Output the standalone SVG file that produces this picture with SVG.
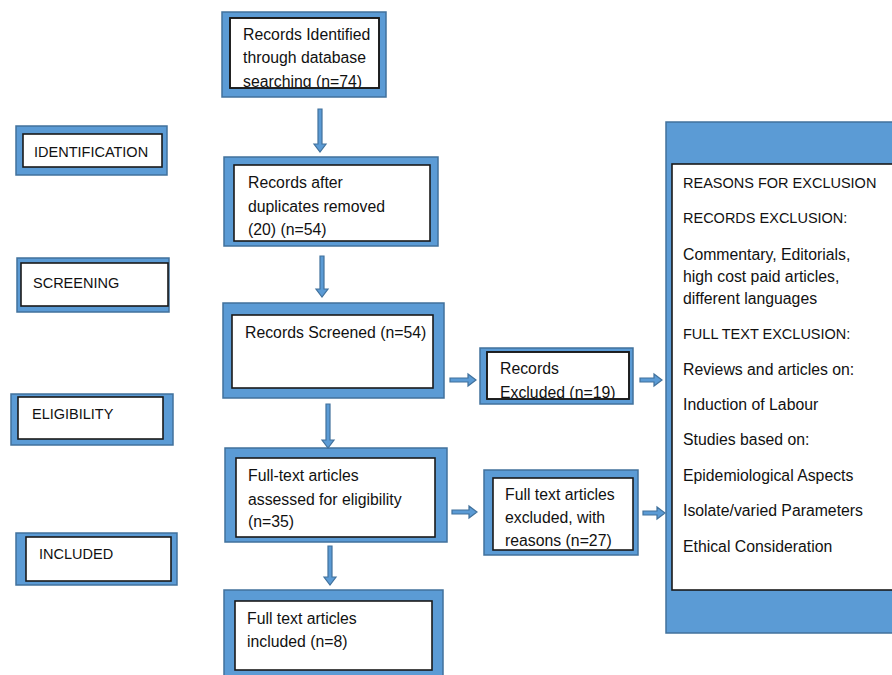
<svg xmlns="http://www.w3.org/2000/svg" width="892" height="675" viewBox="0 0 892 675">
<style>
.o{fill:#5b9bd5;stroke:#41719c;stroke-width:1.5}
.i{fill:#fff;stroke:#1a1a1a;stroke-width:1.6}
.e{fill:none;stroke:#1a1a1a;stroke-width:1.6}
.t{font-family:"Liberation Sans",Arial,sans-serif;font-size:15.8px;fill:#111}
.c{font-family:"Liberation Sans",Arial,sans-serif;font-size:14.5px;fill:#111}
.a{fill:#5b9bd5;stroke:#41719c;stroke-width:1.2}
</style>
<defs>
<clipPath id="cp1"><rect x="230" y="18" width="149" height="69"/></clipPath>
<clipPath id="cp4"><rect x="487" y="352" width="142" height="46"/></clipPath>
</defs>
<rect width="892" height="675" fill="#fff"/>

<g id="label-identification">
<rect class="o" x="16" y="126" width="151" height="49"/>
<rect class="i" x="23" y="134" width="139" height="33"/>
<text class="c" x="34" y="157">IDENTIFICATION</text>
</g>
<g id="label-screening">
<rect class="o" x="17" y="258" width="152" height="54"/>
<rect class="i" x="21" y="263" width="147" height="43"/>
<text class="c" x="33" y="288">SCREENING</text>
</g>
<g id="label-eligibility">
<rect class="o" x="11" y="394" width="162" height="51"/>
<rect class="i" x="18" y="397" width="145" height="42"/>
<text class="c" x="32" y="419">ELIGIBILITY</text>
</g>
<g id="label-included">
<rect class="o" x="16" y="533" width="161" height="52"/>
<rect class="i" x="26" y="537" width="145" height="44"/>
<text class="c" x="39" y="559">INCLUDED</text>
</g>

<g id="box-identified">
<rect class="o" x="222" y="12" width="164" height="85"/>
<rect class="i" x="230" y="18" width="149" height="70"/>
<g clip-path="url(#cp1)">
<text class="t" x="243" y="40">Records Identified</text>
<text class="t" x="243" y="63">through database</text>
<text class="t" x="243" y="87">searching (n=74)</text>
</g>
<rect class="e" x="230" y="18" width="149" height="70"/>
</g>

<g id="box-duplicates">
<rect class="o" x="224" y="157" width="214" height="89"/>
<rect class="i" x="234" y="165" width="196" height="76"/>
<text class="t" x="248" y="188">Records after</text>
<text class="t" x="248" y="212">duplicates removed</text>
<text class="t" x="248" y="235">(20) (n=54)</text>
</g>

<g id="box-screened">
<rect class="o" x="223" y="303" width="221" height="95"/>
<rect class="i" x="232" y="315" width="201" height="73"/>
<text class="t" x="245" y="338">Records Screened (n=54)</text>
</g>

<g id="box-excluded">
<rect class="o" x="480" y="348" width="153" height="56"/>
<rect class="i" x="487" y="352" width="142" height="47"/>
<g clip-path="url(#cp4)">
<text class="t" x="500" y="374">Records</text>
<text class="t" x="500" y="398">Excluded (n=19)</text>
</g>
<rect class="e" x="487" y="352" width="142" height="47"/>
</g>

<g id="box-assessed">
<rect class="o" x="225" y="448" width="222" height="94"/>
<rect class="i" x="236" y="458" width="199" height="79"/>
<text class="t" x="248" y="481">Full-text articles</text>
<text class="t" x="248" y="505">assessed for eligibility</text>
<text class="t" x="248" y="527">(n=35)</text>
</g>

<g id="box-fulltext-excluded">
<rect class="o" x="484" y="470" width="154" height="85"/>
<rect class="i" x="493" y="478" width="140" height="72"/>
<text class="t" x="505" y="500">Full text articles</text>
<text class="t" x="505" y="523">excluded, with</text>
<text class="t" x="505" y="546">reasons (n=27)</text>
</g>

<g id="box-included">
<rect class="o" x="224" y="590" width="219" height="90"/>
<rect class="i" x="235" y="601" width="197" height="69"/>
<text class="t" x="247" y="624">Full text articles</text>
<text class="t" x="247" y="647">included (n=8)</text>
</g>

<g id="panel-reasons">
<rect class="o" x="666" y="122" width="240" height="511"/>
<rect class="i" x="672" y="164" width="230" height="426"/>
<text class="c" x="683" y="188">REASONS FOR EXCLUSION</text>
<text class="c" x="683" y="223">RECORDS EXCLUSION:</text>
<text class="t" x="683" y="260">Commentary, Editorials,</text>
<text class="t" x="683" y="282">high cost paid articles,</text>
<text class="t" x="683" y="304">different languages</text>
<text class="c" x="683" y="339">FULL TEXT EXCLUSION:</text>
<text class="t" x="683" y="375">Reviews and articles on:</text>
<text class="t" x="683" y="410">Induction of Labour</text>
<text class="t" x="683" y="445">Studies based on:</text>
<text class="t" x="683" y="481">Epidemiological Aspects</text>
<text class="t" x="683" y="516">Isolate/varied Parameters</text>
<text class="t" x="683" y="552">Ethical Consideration</text>
</g>

<g id="connectors">
<path class="a" d="M318,109 h4 v35 h4 l-6,8 l-6,-8 h4 z"/>
<path class="a" d="M320,256 h4 v33 h4 l-6,8 l-6,-8 h4 z"/>
<path class="a" d="M326,404 h4 v36 h4 l-6,8 l-6,-8 h4 z"/>
<path class="a" d="M328,546 h4 v31 h4 l-6,8 l-6,-8 h4 z"/>
<path class="a" d="M450,378 h18 v-4 l8,6 l-8,6 v-4 h-18 z"/>
<path class="a" d="M640,378 h14 v-4 l8,6 l-8,6 v-4 h-14 z"/>
<path class="a" d="M452,510 h17 v-4 l8,6 l-8,6 v-4 h-17 z"/>
<path class="a" d="M643,511 h14 v-4 l8,6 l-8,6 v-4 h-14 z"/>
</g>
</svg>
